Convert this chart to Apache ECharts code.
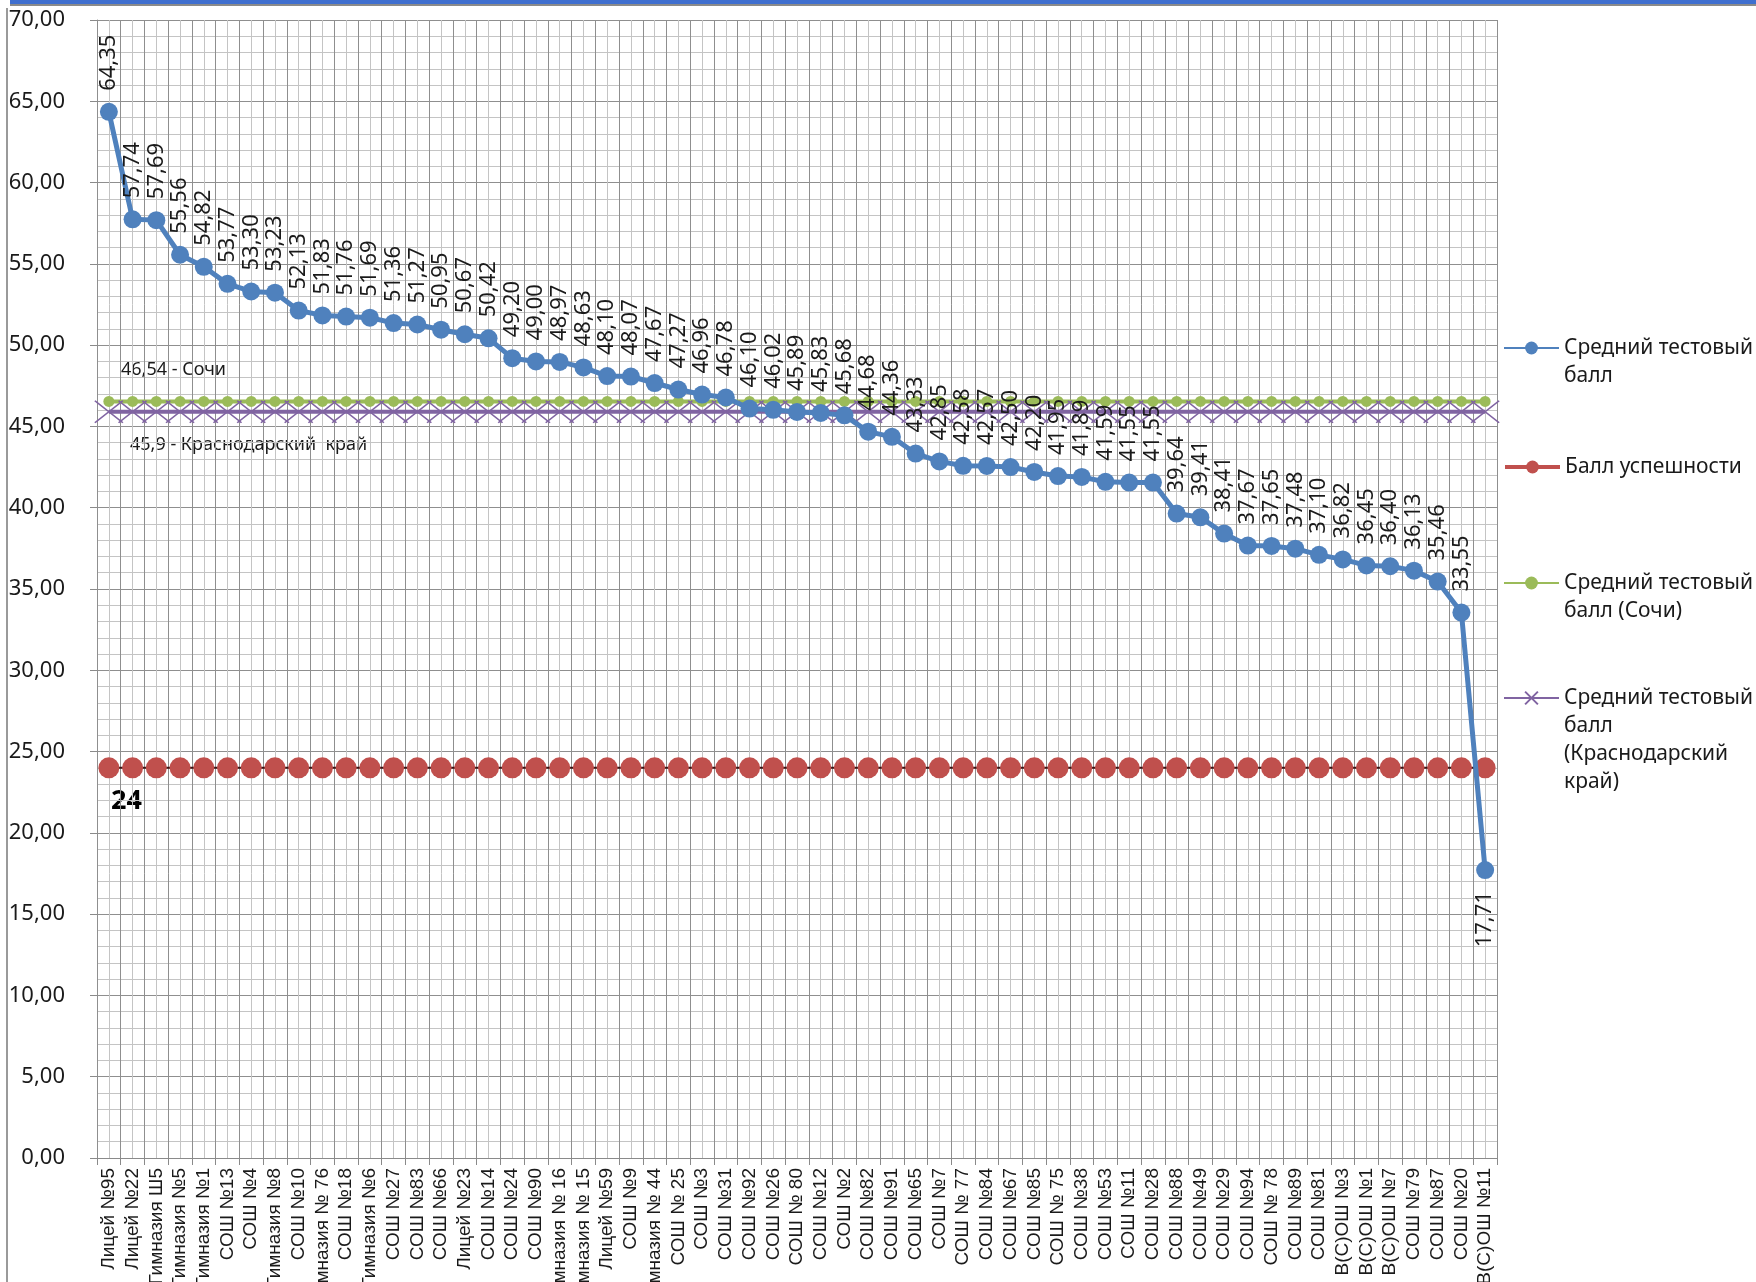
<!DOCTYPE html>
<html>
<head>
<meta charset="utf-8">
<script src="https://cdn.jsdelivr.net/npm/echarts@6/dist/echarts.min.js"></script>
<style>
html,body{margin:0;padding:0;background:#fff;}
#chart{width:1756px;height:1282px;}
</style>
</head>
<body>
<div id="chart"></div>
<script>
const categories = [
  'Лицей №95','Лицей №22','Гимназия Ш5','Гимназия №5','Гимназия №1','СОШ №13','СОШ №4','Гимназия №8',
  'СОШ №10','Гимназия № 76','СОШ №18','Гимназия №6','СОШ №27','СОШ №83','СОШ №66','Лицей №23',
  'СОШ №14','СОШ №24','СОШ №90','Гимназия № 16','Гимназия № 15','Лицей №59','СОШ №9','Гимназия № 44',
  'СОШ № 25','СОШ №3','СОШ №31','СОШ №92','СОШ №26','СОШ № 80','СОШ №12','СОШ №2',
  'СОШ №82','СОШ №91','СОШ №65','СОШ №7','СОШ № 77','СОШ №84','СОШ №67','СОШ №85',
  'СОШ № 75','СОШ №38','СОШ №53','СОШ №11','СОШ №28','СОШ №88','СОШ №49','СОШ №29',
  'СОШ №94','СОШ № 78','СОШ №89','СОШ №81','В(С)ОШ №3','В(С)ОШ №1','В(С)ОШ №7','СОШ №79',
  'СОШ №87','СОШ №20','В(С)ОШ №11'
];
const avgScore = [
  64.35,57.74,57.69,55.56,54.82,53.77,53.30,53.23,
  52.13,51.83,51.76,51.69,51.36,51.27,50.95,50.67,
  50.42,49.20,49.00,48.97,48.63,48.10,48.07,47.67,
  47.27,46.96,46.78,46.10,46.02,45.89,45.83,45.68,
  44.68,44.36,43.33,42.85,42.58,42.57,42.50,42.20,
  41.95,41.89,41.59,41.55,41.55,39.64,39.41,38.41,
  37.67,37.65,37.48,37.10,36.82,36.45,36.40,36.13,
  35.46,33.55,17.71
];
const passScore = 24;
const sochiScore = 46.54;
const regionScore = 45.9;
const seriesNames = ['Средний тестовый балл','Балл успешности','Средний тестовый балл (Сочи)','Средний тестовый балл (Краснодарский край)'];
const legendTexts = ['Средний тестовый\nбалл','Балл успешности','Средний тестовый\nбалл (Сочи)','Средний тестовый\nбалл\n(Краснодарский\nкрай)'];
const yTicks = [0,5,10,15,20,25,30,35,40,45,50,55,60,65,70];

const fmt = v => v.toFixed(2).replace('.', ',');
const N = categories.length;
const FONT = 'Noto Sans';

const chart = echarts.init(document.getElementById('chart'), null, {renderer:'canvas'});

const blueData = avgScore.map((v, i) => i === N - 1
  ? {value: v, label: {position: 'bottom', align: 'right'}}
  : v);

const legendTop = [348, 467, 583, 698];
const LH = 28;
const legends = seriesNames.map((n, i) => {
  const lines = legendTexts[i].split('\n').length;
  const shown = '\n'.repeat(lines - 1) + legendTexts[i];
  const lg = {
    data: [n],
    orient: 'vertical',
    left: 1503,
    top: legendTop[i] - (2 * lines - 1) * LH / 2,
    padding: 0,
    itemWidth: 55,
    itemHeight: 16,
    selectedMode: false,
    formatter: () => shown,
    textStyle: {fontFamily: FONT, fontSize: 21, lineHeight: LH, color: '#1a1a1a'}
  };
  if (i === 1) lg.lineStyle = {color: '#C0504D', width: 4};
  return lg;
});

const option = {
  animation: false,
  backgroundColor: '#fff',
  textStyle: {fontFamily: FONT},
  grid: {left: 97, right: 259, top: 20, bottom: 124, containLabel: false, outerBoundsMode: 'none'},
  legend: legends,
  xAxis: [
    {
      type: 'category',
      data: categories,
      boundaryGap: true,
      z: 1,
      axisLine: {lineStyle: {color: '#8a8a8a', width: 1}},
      axisTick: {show: true, alignWithLabel: false, length: 7, lineStyle: {color: '#8a8a8a'}},
      splitLine: {show: true, interval: 0, lineStyle: {color: '#8f8f8f', width: 1}},
      axisLabel: {interval: 0, rotate: 90, fontSize: 19, fontFamily: 'Liberation Sans', color: '#1a1a1a', margin: 10, hideOverlap: false}
    },
    {
      type: 'value',
      min: 0,
      max: 2 * N,
      interval: 1,
      position: 'top',
      z: 0,
      axisLine: {show: false},
      axisTick: {show: false},
      axisLabel: {show: false},
      splitLine: {show: true, lineStyle: {color: '#c4c4c4', width: 1}}
    }
  ],
  yAxis: {
    type: 'value',
    min: 0,
    max: 70,
    interval: 5,
    axisLine: {show: true, lineStyle: {color: '#8a8a8a'}},
    axisTick: {show: true, length: 7, lineStyle: {color: '#8a8a8a'}},
    axisLabel: {color: '#1a1a1a', fontSize: 22, fontFamily: FONT, margin: 32, formatter: v => yTicks.includes(v) ? fmt(v) : ''},
    splitLine: {show: true, lineStyle: {color: '#8f8f8f', width: 1}},
    minorTick: {show: false, splitNumber: 5},
    minorSplitLine: {show: true, lineStyle: {color: '#c4c4c4', width: 1}}
  },
  series: [
    {
      name: seriesNames[0],
      type: 'line',
      xAxisIndex: 0,
      data: blueData,
      z: 6,
      symbol: 'circle',
      symbolSize: 18,
      itemStyle: {color: '#4F81BD'},
      lineStyle: {color: '#4F81BD', width: 5},
      label: {
        show: true,
        position: 'top',
        distance: 12,
        rotate: 90,
        align: 'left',
        verticalAlign: 'middle',
        fontSize: 22,
        fontFamily: FONT,
        color: '#1a1a1a',
        formatter: p => fmt(p.value)
      }
    },
    {
      name: seriesNames[1],
      type: 'line',
      xAxisIndex: 0,
      data: categories.map(() => passScore),
      z: 3,
      symbol: 'circle',
      symbolSize: 21,
      itemStyle: {color: '#C0504D'},
      lineStyle: {color: '#3a1414', width: 2}
    },
    {
      name: seriesNames[2],
      type: 'line',
      xAxisIndex: 0,
      data: categories.map(() => sochiScore),
      z: 4,
      symbol: 'circle',
      symbolSize: 11,
      itemStyle: {color: '#9BBB59'},
      lineStyle: {color: '#9BBB59', width: 4}
    },
    {
      name: seriesNames[3],
      type: 'line',
      xAxisIndex: 0,
      data: categories.map(() => regionScore),
      z: 4,
      symbol: 'path://M0,0L10,10M10,0L0,10',
      symbolSize: [28, 22],
      itemStyle: {color: 'rgba(0,0,0,0)', borderColor: '#8064A2', borderWidth: 1.5},
      lineStyle: {color: '#8064A2', width: 4}
    }
  ],
  graphic: [
    {type: 'rect', left: 10, top: 0, shape: {width: 1746, height: 4}, style: {fill: '#3f6fcf'}, silent: true},
    {type: 'rect', left: 10, top: 4, shape: {width: 1746, height: 2}, style: {fill: '#8a8a8a'}, silent: true},
    {type: 'rect', left: 6, top: 8, shape: {width: 2, height: 1274}, style: {fill: '#9a9a9a'}, silent: true},
    {type: 'text', left: 121, top: 361, style: {text: '46,54 - Сочи', fontSize: 18, fontFamily: FONT, fill: '#1a1a1a'}},
    {type: 'text', left: 130, top: 436, style: {text: '45,9 - Краснодарский  край', fontSize: 18, fontFamily: FONT, fill: '#1a1a1a'}},
    {type: 'text', left: 111, top: 788, style: {text: '24', fontSize: 27, fontWeight: 'bold', fontFamily: FONT, fill: '#000'}}
  ]
};
chart.setOption(option);
</script>
</body>
</html>
